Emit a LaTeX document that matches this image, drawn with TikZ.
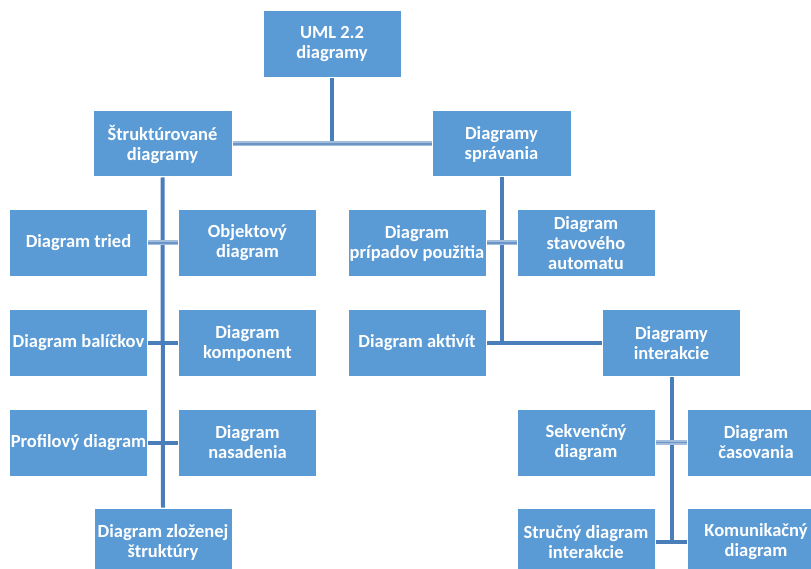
\documentclass[tikz,border=0pt]{standalone}
\usepackage{fontspec}
\setmainfont{Carlito}
\usetikzlibrary{backgrounds}
\definecolor{boxblue}{HTML}{5B9BD5}
\definecolor{linkblue}{HTML}{4A7EBB}
\definecolor{linklight}{HTML}{A3BEDD}
\definecolor{linkmid}{HTML}{6A95C6}
\tikzset{
  box/.style={rectangle, fill=boxblue, draw=white, line width=1pt,
    minimum width=138pt, minimum height=67pt, inner sep=0pt,
    text=white, align=center, font=\fontsize{18.5}{20}\selectfont\bfseries},
  link/.style={draw=linkblue, line width=4pt},
  softlink/.style={draw=linklight, line width=5pt, postaction={draw=linkmid, line width=1.4pt}},
}
\begin{document}
\begin{tikzpicture}[x=1pt, y=-1pt]
\useasboundingbox (0,0) rectangle (811,569);
\clip (0,0) rectangle (811,569);

% root and the two main branches
\node[box] (uml) at (332,44.5) {UML 2.2\\diagramy};
\node[box, minimum width=139pt, minimum height=66pt] (str) at (162.5,144) {Štruktúrované\\diagramy};
\node[box, minimum width=139pt, minimum height=66pt] (spr) at (501.5,144) {Diagramy\\správania};

% structure diagrams
\node[box] (tried) at (78.5,243) {Diagram tried};
\node[box] (obj)   at (247.5,243) {Objektový\\diagram};
\node[box] (bal)   at (78.5,343) {Diagram balíčkov};
\node[box] (komp)  at (247.5,343) {Diagram\\komponent};
\node[box] (prof)  at (78.5,442.5) {Profilový diagram};
\node[box] (nas)   at (247.5,442.5) {Diagram\\nasadenia};
\node[box, minimum height=68pt] (zloz) at (163,542) {Diagram zloženej\\štruktúry};

% behaviour diagrams
\node[box] (pou)   at (417,243) {Diagram\\prípadov použitia};
\node[box] (stav)  at (586,243) {Diagram\\stavového\\automatu};
\node[box] (akt)   at (417,343) {Diagram aktivít};
\node[box] (inter) at (671.5,343) {Diagramy\\interakcie};

% interaction diagrams
\node[box] (sek)   at (586,442.5) {Sekvenčný\\diagram};
\node[box] (cas)   at (756,442.5) {Diagram\\časovania};
\node[box, minimum height=68pt] (struc) at (586,542) {Stručný diagram\\interakcie};
\node[box, minimum height=68pt] (kom)   at (756,542) {Komunikačný\\diagram};

\begin{pgfonlayer}{background}
  % trunk lines
  \path[link] (uml.south) -- (uml.south |- str.east);
  \path[link] (str.south) -- (zloz.north);
  \path[link] (spr.south) -- (spr.south |- akt.east);
  \path[link] (inter.south) -- (inter.south |- struc.east);
  % cross links
  \path[softlink] (str.east) -- (spr.west);
  \path[softlink] (tried.east) -- (obj.west);
  \path[link] (bal.east) -- (komp.west);
  \path[link] (prof.east) -- (nas.west);
  \path[softlink] (pou.east) -- (stav.west);
  \path[link] (akt.east) -- (inter.west);
  \path[softlink] (sek.east) -- (cas.west);
  \path[link] (struc.east) -- (kom.west);
\end{pgfonlayer}
\end{tikzpicture}
\end{document}
